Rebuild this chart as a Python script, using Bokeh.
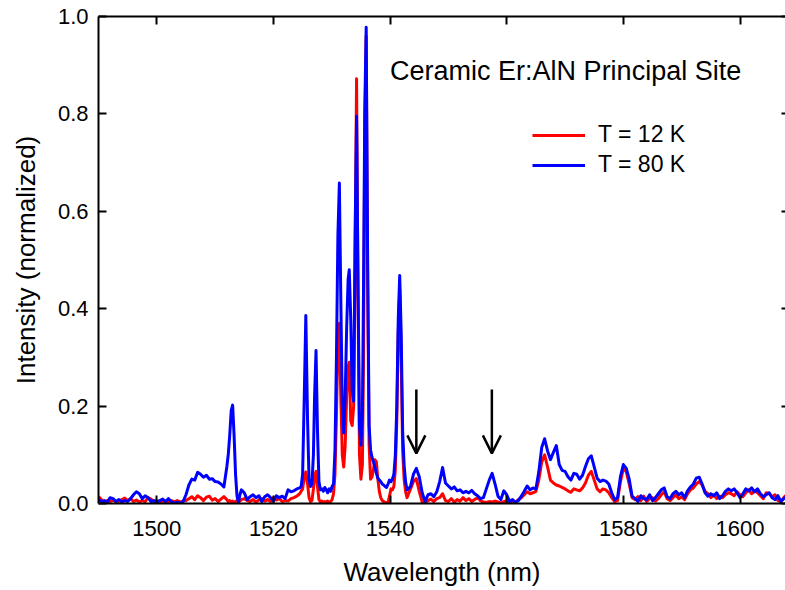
from bokeh.plotting import figure
from bokeh.models import (LinearAxis, FixedTicker, NumeralTickFormatter, Legend,
                          LegendItem, Label, Arrow, OpenHead, Range1d, ColumnDataSource)
from bokeh.embed import file_html
from bokeh.resources import INLINE

# ---------------- data ----------------
wavelength_nm = [
    1490.0, 1490.5, 1491.0, 1491.5, 1492.0, 1492.5, 1493.0, 1493.5, 1494.0, 1494.5,
    1495.0, 1495.5, 1496.0, 1496.5, 1497.0, 1497.5, 1498.0, 1498.5, 1499.0, 1499.5,
    1500.0, 1500.5, 1501.0, 1501.5, 1502.0, 1502.5, 1503.0, 1503.5, 1504.0, 1504.5,
    1505.0, 1505.5, 1506.0, 1506.5, 1507.0, 1507.5, 1508.0, 1508.5, 1509.0, 1509.5,
    1510.0, 1510.5, 1511.0, 1511.5,
    1512.0, 1512.25, 1512.5, 1512.75, 1513.0, 1513.25, 1513.5, 1513.75, 1514.0, 1514.25, 1514.5,
    1515.0, 1515.5, 1516.0, 1516.5, 1517.0, 1517.5, 1518.0, 1518.5, 1519.0, 1519.5,
    1520.0, 1520.5, 1521.0, 1521.5, 1522.0, 1522.5, 1523.0, 1523.5, 1524.0, 1524.5,
    1524.75, 1525.0, 1525.25, 1525.55, 1525.85, 1526.1, 1526.35, 1526.6, 1526.85, 1527.05,
    1527.3, 1527.55, 1527.8, 1528.05, 1528.3, 1528.55, 1528.8, 1529.05, 1529.3, 1529.55,
    1529.8, 1530.05, 1530.3, 1530.55, 1530.8, 1531.05, 1531.3, 1531.55, 1531.8, 1532.05,
    1532.3, 1532.55, 1532.8, 1533.0, 1533.25, 1533.5, 1533.75, 1534.0, 1534.25, 1534.5,
    1534.75, 1535.0, 1535.25, 1535.45, 1535.65, 1535.9, 1536.15, 1536.4, 1536.65, 1536.9,
    1537.15, 1537.4, 1537.65, 1537.9, 1538.15, 1538.4, 1538.65, 1538.9, 1539.15, 1539.4,
    1539.65, 1539.9, 1540.15, 1540.4, 1540.65, 1540.9, 1541.15, 1541.4, 1541.65, 1541.9,
    1542.15, 1542.4, 1542.65, 1542.9,
    1543.5, 1544.0, 1544.5, 1545.0, 1545.5, 1546.0, 1546.5, 1547.0, 1547.5, 1548.0,
    1548.5, 1549.0, 1549.5, 1550.0, 1550.5, 1551.0, 1551.5, 1552.0, 1552.5, 1553.0,
    1553.5, 1554.0, 1554.5, 1555.0, 1555.5, 1556.0, 1556.5, 1557.0, 1557.5, 1558.0,
    1558.5, 1559.0, 1559.5, 1560.0, 1560.5, 1561.0, 1561.5, 1562.0, 1562.5, 1563.0,
    1563.5, 1564.0, 1564.5, 1565.0, 1565.5, 1566.0, 1566.5, 1567.0, 1567.5, 1568.0,
    1568.5, 1569.0, 1569.5, 1570.0, 1570.5, 1571.0, 1571.5, 1572.0, 1572.5, 1573.0,
    1573.5, 1574.0, 1574.5, 1575.0, 1575.5, 1576.0, 1576.5, 1577.0, 1577.5, 1578.0,
    1578.5, 1579.0, 1579.5, 1580.0, 1580.5, 1581.0, 1581.5, 1582.0, 1582.5, 1583.0,
    1583.5, 1584.0, 1584.5, 1585.0, 1585.5, 1586.0, 1586.5, 1587.0, 1587.5, 1588.0,
    1588.5, 1589.0, 1589.5, 1590.0, 1590.5, 1591.0, 1591.5, 1592.0, 1592.5, 1593.0,
    1593.5, 1594.0, 1594.5, 1595.0, 1595.5, 1596.0, 1596.5, 1597.0, 1597.5, 1598.0,
    1598.5, 1599.0, 1599.5, 1600.0, 1600.5, 1601.0, 1601.5, 1602.0, 1602.5, 1603.0,
    1603.5, 1604.0, 1604.5, 1605.0, 1605.5, 1606.0, 1606.5, 1607.0, 1607.5, 1608.0,
    1608.5,
]

intensity_12K = [
    0.014, 0.008, 0.003, 0.006, 0.004, 0.007, 0.003, 0.005, 0.008, 0.011,
    0.006, 0.010, 0.004, 0.007, 0.003, 0.006, 0.004, 0.012, 0.009, 0.004,
    0.006, 0.003, 0.005, 0.002, 0.004, 0.006, 0.004, 0.006, 0.003, 0.005,
    0.006, 0.010, 0.014, 0.008, 0.016, 0.012, 0.006, 0.013, 0.015, 0.007,
    0.010, 0.004, 0.009, 0.014,
    0.008, 0.004, 0.006, 0.003, 0.005, 0.002, 0.004, 0.006, 0.003, 0.005, 0.008,
    0.010, 0.006, 0.004, 0.008, 0.003, 0.007, 0.010, 0.005, 0.008, 0.004,
    0.012, 0.007, 0.010, 0.004, 0.006, 0.005, 0.010, 0.012, 0.015, 0.020,
    0.025, 0.030, 0.050, 0.065, 0.040, 0.012, 0.004, 0.006, 0.030, 0.055,
    0.066, 0.035, 0.008, 0.003, 0.005, 0.002, 0.004, 0.003, 0.005, 0.002,
    0.004, 0.008, 0.020, 0.060, 0.180, 0.330, 0.370, 0.220, 0.100, 0.075,
    0.120, 0.220, 0.280, 0.290, 0.170, 0.160, 0.200, 0.500, 0.872, 0.420,
    0.100, 0.050, 0.080, 0.300, 0.750, 0.960, 0.450, 0.120, 0.050, 0.055,
    0.070, 0.090, 0.085, 0.050, 0.025, 0.012, 0.006, 0.004, 0.002, 0.001,
    0.003, 0.015, 0.030, 0.028, 0.035, 0.070, 0.170, 0.350, 0.440, 0.300,
    0.110, 0.050, 0.025, 0.012,
    0.030, 0.045, 0.051, 0.025, 0.003, 0.001, 0.006, 0.009, 0.004, 0.010,
    0.012, 0.020, 0.006, 0.004, 0.010, 0.003, 0.008, 0.005, 0.012, 0.006,
    0.010, 0.004, 0.008, 0.012, 0.006, 0.003, 0.002, 0.004, 0.003, 0.005,
    0.003, 0.001, 0.004, 0.006, 0.002, 0.005, 0.003, 0.008, 0.012, 0.018,
    0.024, 0.020, 0.022, 0.025, 0.048, 0.085, 0.100, 0.075, 0.048, 0.042,
    0.038, 0.036, 0.033, 0.030, 0.026, 0.023, 0.030, 0.028, 0.026, 0.032,
    0.042, 0.058, 0.066, 0.048, 0.030, 0.024, 0.030, 0.028, 0.022, 0.012,
    0.004, 0.006, 0.045, 0.072, 0.065, 0.040, 0.012, 0.008, 0.014, 0.006,
    0.015, 0.004, 0.010, 0.012, 0.005, 0.010, 0.018, 0.024, 0.010, 0.006,
    0.012, 0.018, 0.010, 0.014, 0.008, 0.020, 0.028, 0.032, 0.040, 0.045,
    0.038, 0.025, 0.020, 0.012, 0.018, 0.010, 0.015, 0.012, 0.018, 0.022,
    0.020, 0.016, 0.024, 0.018, 0.014, 0.022, 0.028, 0.020, 0.026, 0.022,
    0.016, 0.010, 0.022, 0.020, 0.014, 0.018, 0.006, 0.004, 0.012, 0.018,
    0.012,
]

intensity_80K = [
    0.008, 0.004, 0.006, 0.003, 0.012, 0.010, 0.004, 0.008, 0.003, 0.006,
    0.004, 0.010, 0.018, 0.024, 0.020, 0.010, 0.016, 0.012, 0.004, 0.006,
    0.002, 0.006, 0.009, 0.004, 0.010, 0.003, 0.001, 0.002, 0.001, 0.004,
    0.018, 0.038, 0.050, 0.048, 0.064, 0.060, 0.054, 0.058, 0.050, 0.051,
    0.045, 0.044, 0.040, 0.034,
    0.075, 0.100, 0.140, 0.190, 0.202, 0.140, 0.060, 0.015, 0.002, 0.018, 0.028,
    0.022, 0.008, 0.014, 0.018, 0.012, 0.016, 0.004, 0.014, 0.018, 0.012,
    0.005, 0.016, 0.012, 0.015, 0.010, 0.028, 0.024, 0.026, 0.030, 0.032,
    0.035, 0.060, 0.200, 0.386, 0.170, 0.050, 0.035, 0.040, 0.100, 0.220,
    0.314, 0.150, 0.045, 0.028, 0.030, 0.025, 0.033, 0.028, 0.022, 0.030,
    0.025, 0.035, 0.040, 0.110, 0.300, 0.550, 0.658, 0.420, 0.200, 0.145,
    0.220, 0.360, 0.460, 0.480, 0.380, 0.230, 0.210, 0.550, 0.795, 0.450,
    0.160, 0.120, 0.180, 0.450, 0.800, 0.978, 0.500, 0.160, 0.110, 0.095,
    0.085, 0.075, 0.062, 0.052, 0.048, 0.045, 0.040, 0.038, 0.035, 0.033,
    0.040, 0.048, 0.045, 0.050, 0.060, 0.100, 0.200, 0.380, 0.468, 0.350,
    0.150, 0.080, 0.045, 0.028,
    0.035, 0.060, 0.072, 0.055, 0.022, 0.004, 0.018, 0.020, 0.014, 0.024,
    0.045, 0.074, 0.042, 0.036, 0.030, 0.034, 0.026, 0.028, 0.022, 0.025,
    0.022, 0.027, 0.020, 0.016, 0.010, 0.012, 0.030, 0.048, 0.062, 0.040,
    0.015, 0.008, 0.026, 0.018, 0.004, 0.008, 0.002, 0.006, 0.015, 0.025,
    0.036, 0.028, 0.032, 0.030, 0.065, 0.115, 0.133, 0.108, 0.090, 0.105,
    0.119, 0.080, 0.068, 0.066, 0.055, 0.048, 0.062, 0.060, 0.050, 0.058,
    0.076, 0.092, 0.098, 0.075, 0.052, 0.045, 0.048, 0.046, 0.040, 0.022,
    0.008, 0.012, 0.055, 0.080, 0.072, 0.050, 0.015, 0.010, 0.004, 0.016,
    0.010, 0.008, 0.018, 0.006, 0.012, 0.020, 0.028, 0.032, 0.014, 0.010,
    0.020, 0.025, 0.018, 0.022, 0.012, 0.026, 0.034, 0.040, 0.052, 0.054,
    0.040, 0.022, 0.015, 0.020, 0.016, 0.022, 0.010, 0.016, 0.025, 0.030,
    0.026, 0.030, 0.022, 0.012, 0.020, 0.030, 0.026, 0.032, 0.024, 0.030,
    0.020, 0.014, 0.018, 0.022, 0.012, 0.008, 0.016, 0.004, 0.010, 0.014,
    0.008,
]

series_labels = ["T = 12 K", "T = 80 K"]
series_colors = ["#ff0000", "#0000ff"]
x_ticks = [1500, 1520, 1540, 1560, 1580, 1600]
y_ticks = [0.0, 0.2, 0.4, 0.6, 0.8, 1.0]
arrow_x = [1544.5, 1557.45]
arrow_y_top = 0.234
arrow_y_tip = 0.103
annotation_text = "Ceramic Er:AlN Principal Site"

if not (len(wavelength_nm) == len(intensity_12K) == len(intensity_80K)):
    raise SystemExit(f"length mismatch {len(wavelength_nm)} {len(intensity_12K)} {len(intensity_80K)}")

FONT = "Liberation Sans"

p = figure(width=785, height=590, x_range=Range1d(1490, 1607.8), y_range=Range1d(0, 1.0),
           output_backend="svg", toolbar_location=None,
           min_border_left=98, min_border_right=0, min_border_top=16, min_border_bottom=87)
p.grid.visible = False
p.outline_line_color = None
p.background_fill_color = "white"
p.border_fill_color = "white"

src = ColumnDataSource(dict(x=wavelength_nm, y12=intensity_12K, y80=intensity_80K))
r12 = p.line("x", "y12", source=src, color=series_colors[0], line_width=3, line_join="round")
r80 = p.line("x", "y80", source=src, color=series_colors[1], line_width=3, line_join="round")


def style_axis(ax, show_labels=True, tick_in=8, line=True):
    ax.minor_tick_line_color = None
    ax.major_tick_in = tick_in
    ax.major_tick_out = 0
    ax.major_tick_line_width = 2
    ax.major_tick_line_color = "black"
    ax.axis_line_width = 2
    ax.axis_line_color = "black" if line else None
    ax.major_label_text_font = FONT
    ax.axis_label_text_font = FONT
    ax.axis_label_text_font_style = "normal"
    ax.axis_label_text_color = "black"
    if show_labels:
        ax.major_label_text_color = "black"
        ax.major_label_text_font_size = "22px"
        ax.axis_label_text_font_size = "26px"
    else:
        # frame-only axis: ticks, no labels drawn
        ax.major_label_text_color = None
        ax.major_label_text_font_size = "1px"
        ax.major_label_standoff = 0


xb = p.xaxis[0]
style_axis(xb)
xb.ticker = FixedTicker(ticks=x_ticks)
xb.axis_label = "Wavelength (nm)"
xb.major_label_standoff = 17
xb.axis_label_standoff = 18

yl = p.yaxis[0]
style_axis(yl)
yl.ticker = FixedTicker(ticks=y_ticks)
yl.formatter = NumeralTickFormatter(format="0.0")
yl.axis_label = "Intensity (normalized)"
yl.major_label_standoff = 10
yl.axis_label_standoff = 14

xt = LinearAxis(ticker=FixedTicker(ticks=x_ticks))
style_axis(xt, show_labels=False)
p.add_layout(xt, "above")

yr = LinearAxis(ticker=FixedTicker(ticks=y_ticks))
style_axis(yr, show_labels=False, tick_in=4, line=False)
p.add_layout(yr, "right")

legend = Legend(items=[LegendItem(label=series_labels[0], renderers=[r12]),
                       LegendItem(label=series_labels[1], renderers=[r80])],
                location=(434, 325), padding=0, margin=0, spacing=3,
                glyph_width=53, glyph_height=26, label_height=26, label_standoff=13,
                label_text_font=FONT, label_text_font_size="23px", label_text_color="black",
                border_line_color=None, background_fill_alpha=0)
p.add_layout(legend)

p.add_layout(Label(x=1540.0, y=0.889, text=annotation_text, text_font=FONT,
                   text_font_size="27px", text_color="black", text_baseline="alphabetic"))

for ax_x in arrow_x:
    p.add_layout(Arrow(x_start=ax_x, y_start=arrow_y_top, x_end=ax_x, y_end=arrow_y_tip,
                       line_width=2.5, line_color="black",
                       end=OpenHead(size=18, line_width=2.5, line_color="black")))

open("out.html", "w").write(file_html(p, INLINE))
